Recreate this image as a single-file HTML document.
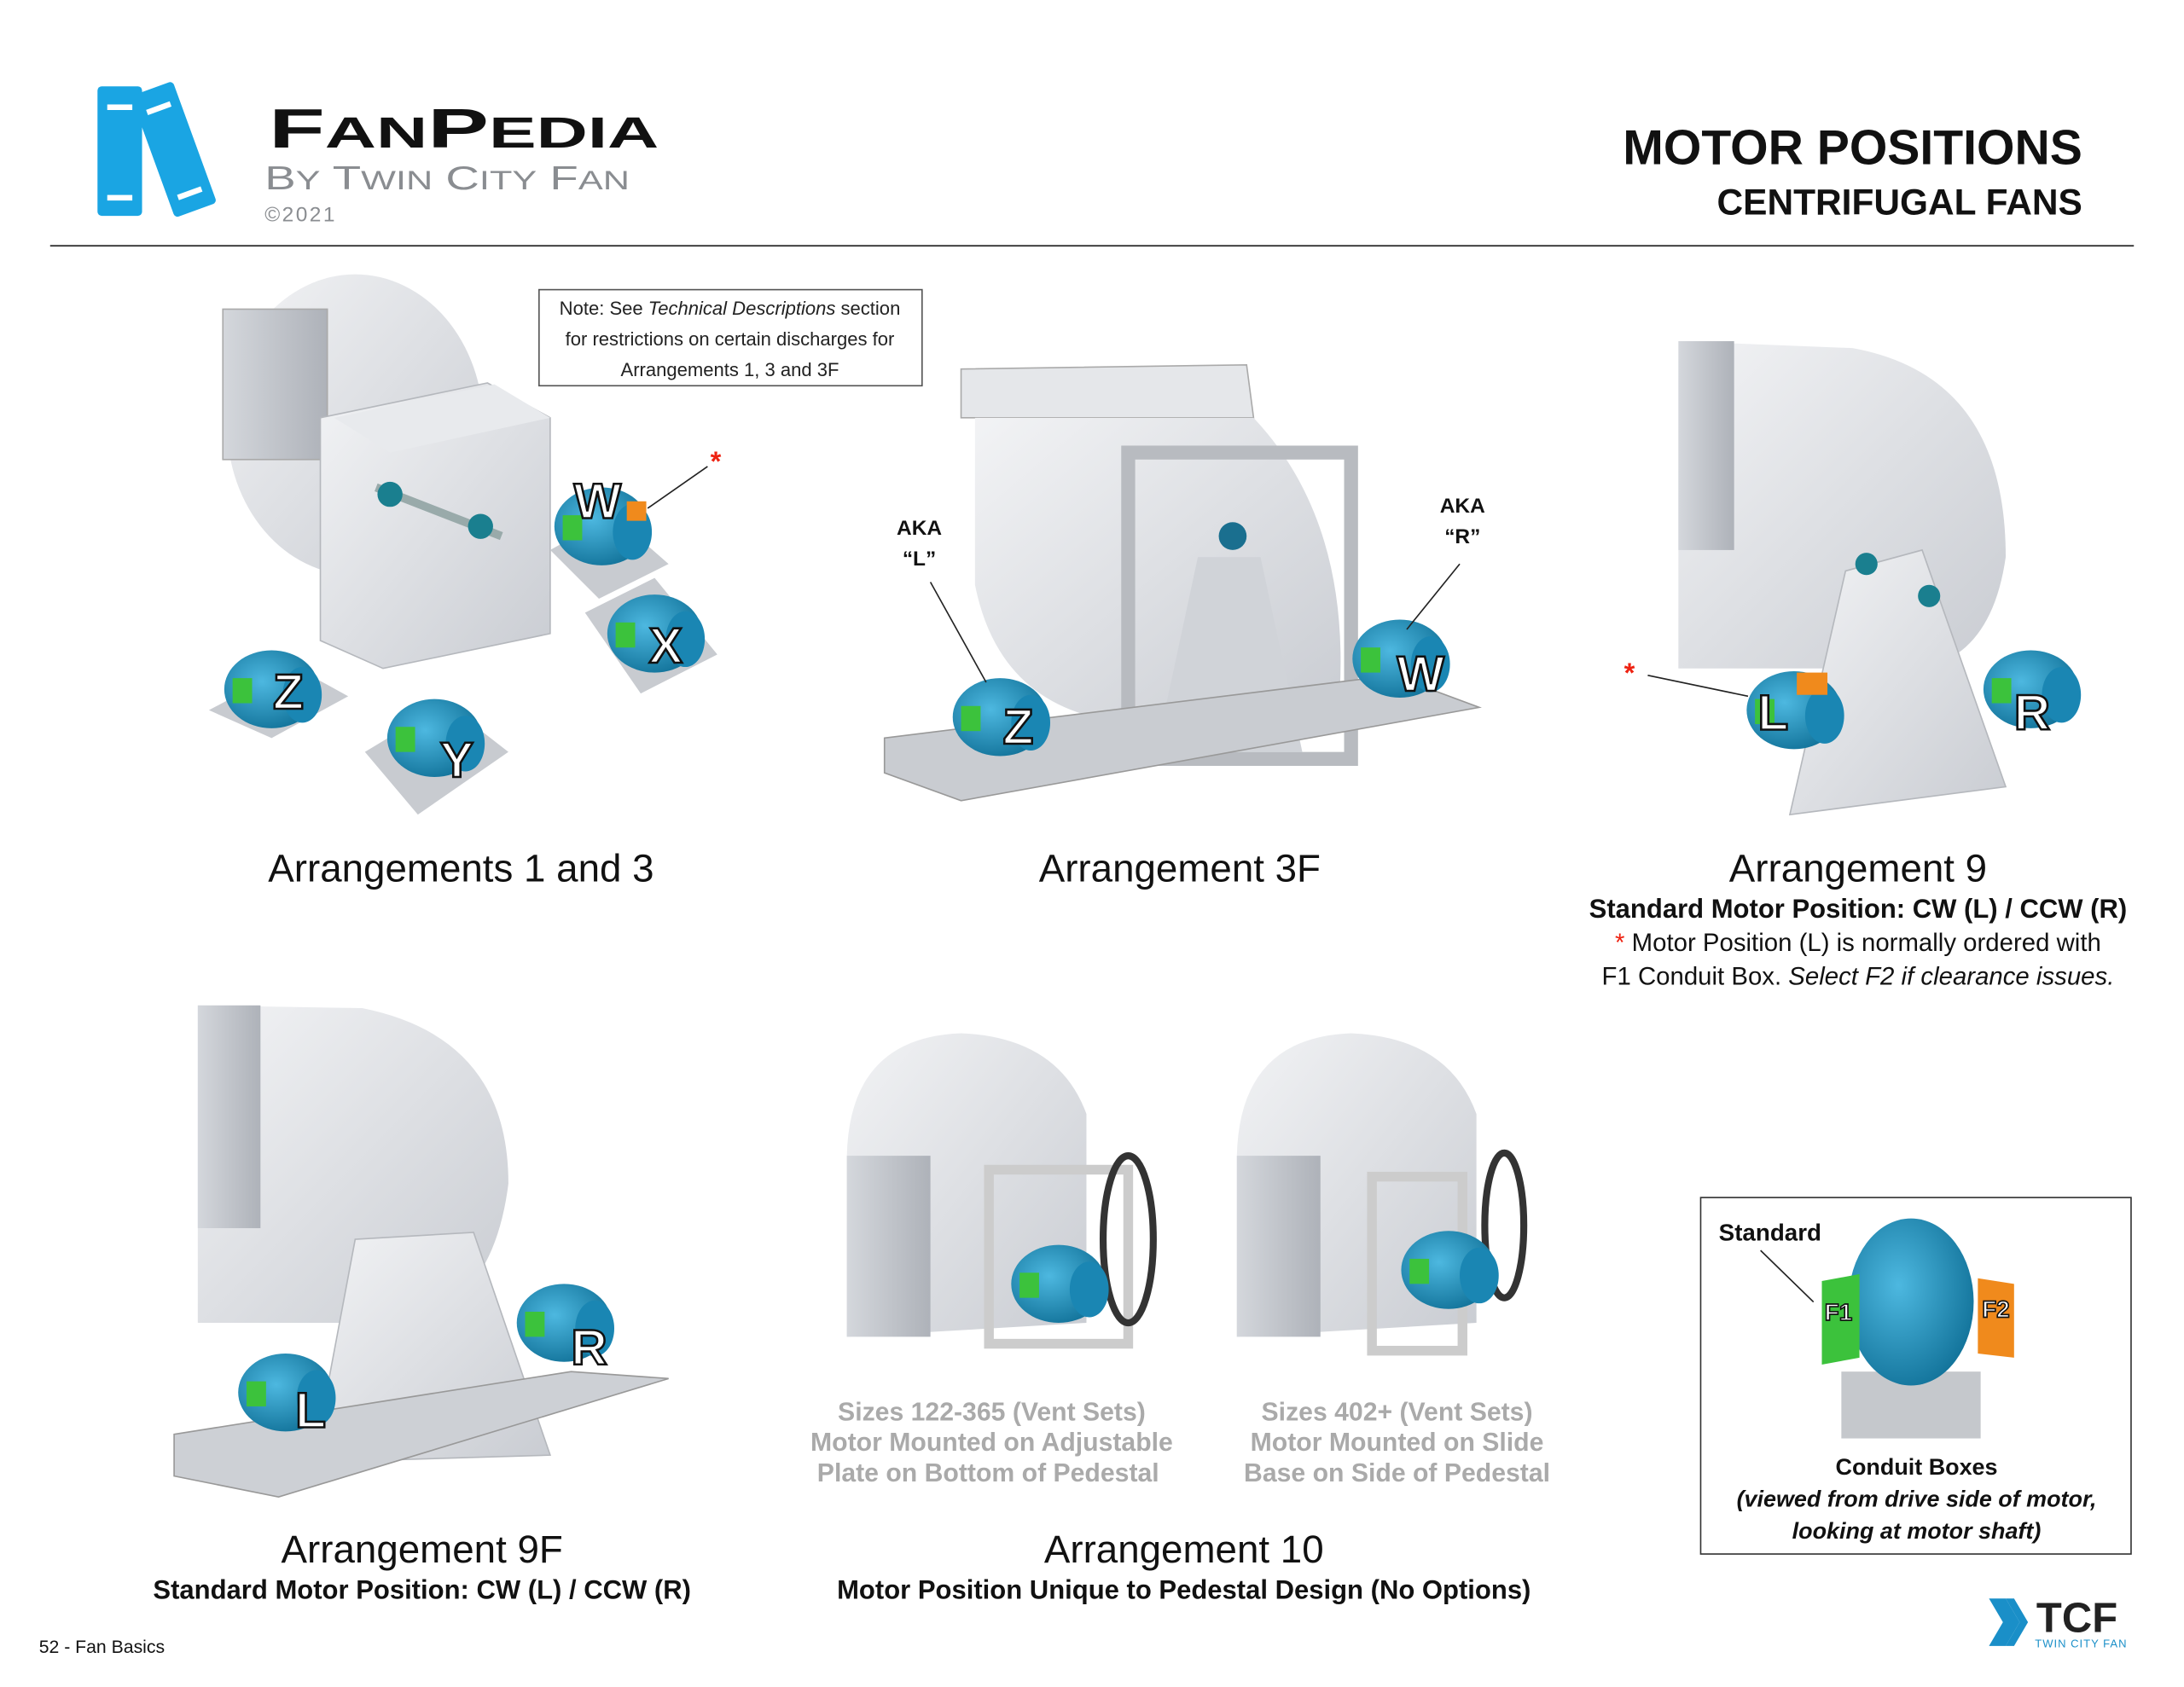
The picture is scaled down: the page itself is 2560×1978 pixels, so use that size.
<!DOCTYPE html>
<html><head><meta charset="utf-8"><style>
html,body{margin:0;padding:0;background:#fff;width:2560px;height:1978px;overflow:hidden}
svg{display:block}
text{font-family:"Liberation Sans",sans-serif}
</style></head><body>
<svg width="2560" height="1978" viewBox="0 0 1568 1211.5" xmlns="http://www.w3.org/2000/svg">
<defs>
<linearGradient id="g" x1="0" y1="0" x2="1" y2="1"><stop offset="0" stop-color="#f2f3f5"/><stop offset="1" stop-color="#c9ccd2"/></linearGradient>
<linearGradient id="gd" x1="0" y1="0" x2="1" y2="0"><stop offset="0" stop-color="#d4d7dc"/><stop offset="1" stop-color="#aeb2b9"/></linearGradient>
<radialGradient id="m" cx="0.4" cy="0.4" r="0.7"><stop offset="0" stop-color="#4db8e0"/><stop offset="1" stop-color="#0e6e95"/></radialGradient>
<g id="mot">
<ellipse cx="0" cy="0" rx="34" ry="28" fill="url(#m)"/>
<rect x="-28" y="-8" width="14" height="18" fill="#3cc23c"/>
<ellipse cx="22" cy="4" rx="14" ry="20" fill="#1a86b3"/>
</g>
</defs>
<!-- header -->
<g>
<rect x="70" y="62" width="32" height="93" rx="3" fill="#1aa5e3"/>
<rect x="77" y="75" width="18" height="4" fill="#fff"/><rect x="77" y="140" width="18" height="4" fill="#fff"/>
<g transform="rotate(-20 120 100)"><rect x="106" y="62" width="32" height="93" rx="3" fill="#1aa5e3"/>
<rect x="113" y="75" width="18" height="4" fill="#fff"/><rect x="113" y="140" width="18" height="4" fill="#fff"/></g>
<text x="193" y="106" font-size="40" font-weight="bold" fill="#111" textLength="280" lengthAdjust="spacingAndGlyphs">F<tspan font-size="31">AN</tspan>P<tspan font-size="31">EDIA</tspan></text>
<text x="190" y="136" font-size="24" fill="#8a8d91" textLength="262" lengthAdjust="spacingAndGlyphs">B<tspan font-size="19">Y</tspan> T<tspan font-size="19">WIN</tspan> C<tspan font-size="19">ITY</tspan> F<tspan font-size="19">AN</tspan></text>
<text x="190" y="159" font-size="15" fill="#8a8d91" letter-spacing="1.5">©2021</text>
<text x="1495" y="118" font-size="35" font-weight="bold" text-anchor="end" fill="#111">MOTOR POSITIONS</text>
<text x="1495" y="154" font-size="26" font-weight="bold" text-anchor="end" fill="#111">CENTRIFUGAL FANS</text>
<line x1="36" y1="176.5" x2="1532" y2="176.5" stroke="#333" stroke-width="1.2"/>
</g>
<!-- note box -->
<rect x="387" y="208" width="275" height="69" fill="#fff" stroke="#555" stroke-width="1"/>
<text font-size="13.5" text-anchor="middle" fill="#222"><tspan x="524" y="226">Note: See <tspan font-style="italic">Technical Descriptions</tspan> section</tspan><tspan x="524" y="248">for restrictions on certain discharges for</tspan><tspan x="524" y="270">Arrangements 1, 3 and 3F</tspan></text>

<!-- Arr 1 & 3 -->
<g>
<ellipse cx="255" cy="305" rx="92" ry="108" fill="url(#g)"/>
<rect x="160" y="222" width="75" height="108" fill="url(#gd)" stroke="#aaa"/>
<polygon points="230,300 350,275 395,300 395,455 275,480 230,460" fill="url(#g)" stroke="#b5b8bd"/>
<polygon points="240,300 355,276 395,300 280,325" fill="#e8eaed"/>
<line x1="270" y1="350" x2="360" y2="385" stroke="#9aa" stroke-width="6"/>
<circle cx="280" cy="355" r="9" fill="#1a7f8f"/><circle cx="345" cy="378" r="9" fill="#1a7f8f"/>
<polygon points="150,510 210,478 250,500 195,530" fill="#c8cbd0"/>
<polygon points="262,540 320,505 365,540 300,585" fill="#c8cbd0"/>
<polygon points="420,440 470,415 515,470 460,498" fill="#c8cbd0"/>
<polygon points="395,395 440,370 480,405 430,430" fill="#c8cbd0"/>
<use href="#mot" x="195" y="495"/><use href="#mot" x="312" y="530"/><use href="#mot" x="470" y="455"/><use href="#mot" x="432" y="378"/>
<rect x="450" y="360" width="14" height="14" fill="#f08a1c"/>
<line x1="465" y1="365" x2="508" y2="335" stroke="#222"/><text x="510" y="338" font-size="20" fill="#e21" font-weight="bold">*</text>
</g>
<text x="331" y="633" font-size="28" text-anchor="middle" fill="#111">Arrangements 1 and 3</text>

<!-- Arr 3F -->
<g>
<polygon points="690,265 895,262 900,300 690,300" fill="#e5e7ea" stroke="#aaa"/>
<path d="M700,300 L700,420 Q720,520 830,520 L960,520 Q975,380 900,300 Z" fill="url(#g)"/>
<rect x="810" y="325" width="160" height="220" fill="none" stroke="#b8bbc0" stroke-width="10"/>
<polygon points="860,400 905,400 935,540 830,540" fill="#d0d3d8"/>
<circle cx="885" cy="385" r="10" fill="#1a6f8f"/>
<polygon points="635,530 1000,485 1062,508 690,575 635,555" fill="#c9ccd1" stroke="#999"/>
<use href="#mot" x="718" y="515"/><use href="#mot" x="1005" y="473"/>
<line x1="668" y1="418" x2="708" y2="490" stroke="#222"/><line x1="1048" y1="405" x2="1010" y2="452" stroke="#222"/>
<text font-size="15" font-weight="bold" text-anchor="middle" fill="#111"><tspan x="660" y="384">AKA</tspan><tspan x="660" y="406">“L”</tspan><tspan x="1050" y="368">AKA</tspan><tspan x="1050" y="390">“R”</tspan></text>
</g>
<text x="847" y="633" font-size="28" text-anchor="middle" fill="#111">Arrangement 3F</text>

<!-- Arr 9 -->
<g>
<path d="M1205,245 L1330,250 Q1440,270 1440,400 Q1430,470 1380,480 L1205,480 Z" fill="url(#g)"/>
<rect x="1205" y="245" width="40" height="150" fill="url(#gd)"/>
<polygon points="1325,410 1380,395 1440,565 1285,585" fill="url(#g)" stroke="#b5b8bd"/>
<circle cx="1340" cy="405" r="8" fill="#1a7f8f"/><circle cx="1385" cy="428" r="8" fill="#1a7f8f"/>
<use href="#mot" x="1288" y="510"/><use href="#mot" x="1458" y="495"/>
<rect x="1290" y="483" width="22" height="16" fill="#f08a1c"/>
<line x1="1183" y1="485" x2="1255" y2="500" stroke="#222"/><text x="1166" y="490" font-size="20" fill="#e21" font-weight="bold">*</text>
</g>
<text x="1334" y="633" font-size="28" text-anchor="middle" fill="#111">Arrangement 9</text>
<text x="1334" y="659" font-size="19" font-weight="bold" text-anchor="middle" fill="#111">Standard Motor Position: CW (L) / CCW (R)</text>
<text x="1334" y="683" font-size="18" text-anchor="middle" fill="#111"><tspan fill="#e21">* </tspan>Motor Position (L) is normally ordered with</text>
<text x="1334" y="707" font-size="18" text-anchor="middle" fill="#111">F1 Conduit Box. <tspan font-style="italic">Select F2 if clearance issues.</tspan></text>

<!-- Arr 9F -->
<g>
<path d="M142,722 L260,724 Q365,745 365,850 Q355,930 300,950 L142,950 Z" fill="url(#g)"/>
<rect x="142" y="722" width="45" height="160" fill="url(#gd)"/>
<polygon points="255,890 340,885 395,1045 225,1050" fill="url(#g)" stroke="#b5b8bd"/>
<polygon points="125,1030 410,985 480,990 200,1075 125,1060" fill="#cdd0d5" stroke="#999"/>
<use href="#mot" x="205" y="1000"/><use href="#mot" x="405" y="950"/>
</g>
<text x="303" y="1122" font-size="28" text-anchor="middle" fill="#111">Arrangement 9F</text>
<text x="303" y="1148" font-size="19" font-weight="bold" text-anchor="middle" fill="#111">Standard Motor Position: CW (L) / CCW (R)</text>

<!-- Arr 10 -->
<g>
<path d="M608,830 Q610,745 690,742 Q760,745 780,800 L780,950 L608,960 Z" fill="url(#g)"/>
<rect x="608" y="830" width="60" height="130" fill="url(#gd)"/>
<rect x="710" y="840" width="100" height="125" fill="none" stroke="#ccc" stroke-width="7"/>
<ellipse cx="810" cy="890" rx="18" ry="60" fill="none" stroke="#333" stroke-width="5"/>
<use href="#mot" x="760" y="922"/>
<path d="M888,830 Q890,745 970,742 Q1040,745 1060,800 L1060,950 L888,960 Z" fill="url(#g)"/>
<rect x="888" y="830" width="60" height="130" fill="url(#gd)"/>
<rect x="985" y="845" width="65" height="125" fill="none" stroke="#ccc" stroke-width="7"/>
<ellipse cx="1080" cy="880" rx="14" ry="52" fill="none" stroke="#333" stroke-width="5"/>
<use href="#mot" x="1040" y="912"/>
</g>
<text font-size="18.5" text-anchor="middle" fill="#aaa" font-weight="bold"><tspan x="712" y="1020">Sizes 122-365 (Vent Sets)</tspan><tspan x="712" y="1042">Motor Mounted on Adjustable</tspan><tspan x="712" y="1064">Plate on Bottom of Pedestal</tspan>
<tspan x="1003" y="1020">Sizes 402+ (Vent Sets)</tspan><tspan x="1003" y="1042">Motor Mounted on Slide</tspan><tspan x="1003" y="1064">Base on Side of Pedestal</tspan></text>
<text x="850" y="1122" font-size="28" text-anchor="middle" fill="#111">Arrangement 10</text>
<text x="850" y="1148" font-size="19" font-weight="bold" text-anchor="middle" fill="#111">Motor Position Unique to Pedestal Design (No Options)</text>

<!-- conduit box -->
<rect x="1221" y="860" width="309" height="256" fill="#fff" stroke="#333" stroke-width="1"/>
<rect x="1322" y="985" width="100" height="48" fill="#c5c8cc"/>
<ellipse cx="1372" cy="935" rx="45" ry="60" fill="url(#m)"/>
<polygon points="1308,920 1335,915 1335,975 1308,980" fill="#3cc23c"/>
<polygon points="1420,918 1446,922 1446,975 1420,972" fill="#f08a1c"/>
<line x1="1264" y1="898" x2="1302" y2="935" stroke="#222"/>
<text x="1234" y="891" font-size="17" font-weight="bold" fill="#111">Standard</text>
<text font-size="17" font-weight="bold" fill="#fff" stroke="#111" stroke-width="1"><tspan x="1310" y="948">F1</tspan><tspan x="1423" y="946">F2</tspan></text>
<text font-size="16.5" font-weight="bold" text-anchor="middle" fill="#111"><tspan x="1376" y="1059">Conduit Boxes</tspan><tspan x="1376" y="1082" font-style="italic">(viewed from drive side of motor,</tspan><tspan x="1376" y="1105" font-style="italic">looking at motor shaft)</tspan></text>

<!-- motor letters on top -->
<g font-size="36" font-weight="bold" fill="#fff" stroke="#111" stroke-width="1.6">
<text x="412" y="372">W</text><text x="466" y="476">X</text><text x="196" y="509">Z</text><text x="316" y="558">Y</text>
<text x="720" y="534">Z</text><text x="1003" y="496">W</text>
<text x="1262" y="524">L</text><text x="1446" y="524">R</text>
<text x="212" y="1025">L</text><text x="410" y="980">R</text>
</g>

<!-- footer -->
<text x="28" y="1187" font-size="13" fill="#111">52 - Fan Basics</text>
<path d="M1428,1148 L1440,1148 L1450,1165 L1440,1182 L1428,1182 L1438,1165 Z" fill="#1a8fc8"/>
<path d="M1440,1148 L1446,1148 L1456,1165 L1446,1182 L1440,1182 L1450,1165 Z" fill="#1a8fc8"/>
<text x="1462" y="1172" font-size="30" font-weight="bold" fill="#222">TCF</text>
<text x="1461" y="1183" font-size="8" fill="#1a8fc8" letter-spacing="0.6">TWIN CITY FAN</text>
</svg>
</body></html>
